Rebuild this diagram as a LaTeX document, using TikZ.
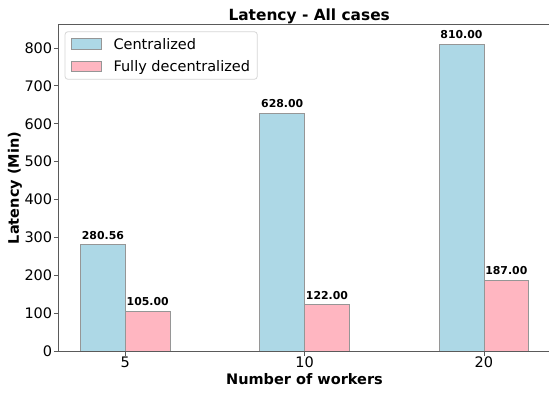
\documentclass[tikz,border=0pt]{standalone}
\usepackage{fontspec}
\setmainfont{DejaVu Sans}
\definecolor{barblue}{RGB}{173,216,230}
\definecolor{barpink}{RGB}{255,182,193}
\definecolor{spinecol}{RGB}{90,90,90}
\definecolor{edgecol}{RGB}{150,150,150}
\definecolor{legframe}{RGB}{215,215,215}
\begin{document}
\begin{tikzpicture}[x=1pt,y=-1pt,
  spine/.style={draw=spinecol,line width=0.8pt},
  tickmark/.style={draw=spinecol,line width=0.8pt},
  cbar/.style={fill=barblue,draw=edgecol,line width=0.8pt},
  dbar/.style={fill=barpink,draw=edgecol,line width=0.8pt},
  ticklab/.style={inner sep=0pt,font=\fontsize{14.5}{16}\selectfont},
  vallab/.style={inner sep=0pt,anchor=base,font=\fontsize{10.9}{12}\selectfont\bfseries},
  axlab/.style={inner sep=0pt,anchor=base,font=\fontsize{14.5}{16}\selectfont\bfseries},
  legtext/.style={inner sep=0pt,anchor=base west,font=\fontsize{14.5}{16}\selectfont}]
\useasboundingbox[fill=white] (0,0) rectangle (549,392);
% bars
\draw[cbar] (80.5,351) rectangle (125.3,244.74);
\draw[dbar] (125.3,351) rectangle (170.1,311.23);
\draw[cbar] (259.8,351) rectangle (304.6,113.14);
\draw[dbar] (304.6,351) rectangle (349.4,304.79);
\draw[cbar] (439.1,351) rectangle (483.9,44.21);
\draw[dbar] (483.9,351) rectangle (528.7,280.17);
% value labels
\node[vallab] (v1) at (102.9,239.0) {280.56};
\node[vallab] (v2) at (147.7,305.5) {105.00};
\node[vallab] (v3) at (282.2,107.4) {628.00};
\node[vallab] (v4) at (327.0,299.1) {122.00};
\node[vallab] (v5) at (461.5,38.5) {810.00};
\node[vallab] (v6) at (506.3,274.5) {187.00};
% spines
\draw[spine] (549,24.7) -- (58.3,24.7) -- (58.3,351) -- (549,351);
% y ticks
\foreach \v/\n in {0/y0,100/y1,200/y2,300/y3,400/y4,500/y5,600/y6,700/y7,800/y8}{
  \pgfmathsetmacro{\py}{351-0.37875*\v}
  \draw[tickmark] (53.8,\py) -- (58.3,\py);
  \node[ticklab,anchor=east] (\n) at (52.4,\py) {\v};
}
% x ticks
\foreach \x/\l/\n in {125.3/5/x0,304.6/10/x1,483.9/20/x2}{
  \draw[tickmark] (\x,351) -- (\x,355.5);
  \node[ticklab,anchor=north] (\n) at (\x,356.8) {\l};
}
% axis labels and title
\node[axlab] (xlabel) at (304.5,384.3) {Number of workers};
\node[axlab,rotate=90] (ylabel) at (19,188) {Latency (Min)};
\node[axlab,font=\fontsize{15.4}{17}\selectfont\bfseries] (title) at (309.2,20.7) {Latency - All cases};
% legend
\draw[draw=legframe,fill=white,line width=0.8pt,rounded corners=3pt] (65,31.7) rectangle (257.3,79.3);
\draw[cbar] (71,38.3) rectangle (101.7,49.3);
\draw[dbar] (71,61) rectangle (101.7,71.7);
\node[legtext] (l1) at (113.3,49.2) {Centralized};
\node[legtext] (l2) at (113.3,71.7) {Fully decentralized};
\end{tikzpicture}
\end{document}
